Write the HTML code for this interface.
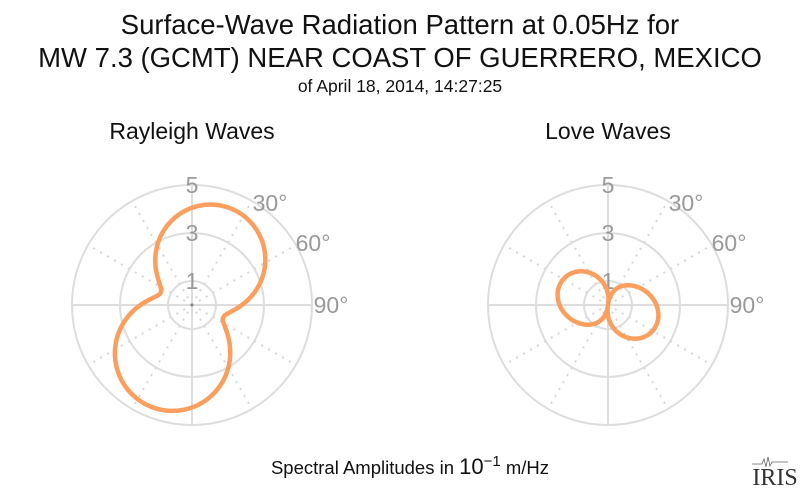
<!DOCTYPE html>
<html><head><meta charset="utf-8"><style>
body{margin:0;background:#fff;}
svg text{font-family:"Liberation Sans",sans-serif;}
</style></head><body>
<svg id="s" width="800" height="496" xmlns="http://www.w3.org/2000/svg">
<rect width="800" height="496" fill="#fff"/>
<text x="400" y="34" font-size="27.5" text-anchor="middle" fill="#111">Surface-Wave Radiation Pattern at 0.05Hz for</text>
<text x="400" y="67" font-size="27.5" text-anchor="middle" fill="#111">MW 7.3 (GCMT) NEAR COAST OF GUERRERO, MEXICO</text>
<text x="400" y="92" font-size="17.5" text-anchor="middle" fill="#111">of April 18, 2014, 14:27:25</text>
<text x="192" y="139" font-size="23" text-anchor="middle" fill="#111">Rayleigh Waves</text>
<text x="608" y="139" font-size="23" text-anchor="middle" fill="#111">Love Waves</text>
<text x="410" y="474" font-size="18.5" text-anchor="middle" fill="#111">Spectral Amplitudes in <tspan font-size="22">10</tspan><tspan font-size="15" dy="-8">−1</tspan><tspan dy="8"> m/Hz</tspan></text>
<text x="775" y="485" font-size="24" text-anchor="middle" fill="#333" style="font-family:'Liberation Serif',serif">IRIS</text>
<path d="M752 464 h10 l2 -5 l2 8 l2 -10 l2 9 l2 -4 h16" stroke="#666" fill="none" stroke-width="0.8"/>
<g id="g"></g>
</svg>
<script>
const g=document.getElementById('g');let h='';
function plot(cx,cy,f){
  const s=24;
  for(let a=0;a<360;a+=30){
    const t=a*Math.PI/180;const x=cx+120*Math.sin(t),y=cy-120*Math.cos(t);
    if(a%90==0)h+=`<line x1="${cx}" y1="${cy}" x2="${x}" y2="${y}" stroke="#ddd" stroke-width="2"/>`;
    else h+=`<line x1="${cx}" y1="${cy}" x2="${x}" y2="${y}" stroke="#d6d6d6" stroke-width="2" stroke-dasharray="2,6"/>`;
  }
  [1,3,5].forEach(r=>h+=`<circle cx="${cx}" cy="${cy}" r="${r*s}" fill="none" stroke="#ddd" stroke-width="2"/>`);
  h+=`<circle cx="${cx}" cy="${cy}" r="1.5" fill="#888"/>`;
  [5,3,1].forEach(v=>h+=`<text x="${cx}" y="${cy-v*s+8}" font-size="23" text-anchor="middle" fill="#999">${v}</text>`);
  h+=`<text x="${cx+78}" y="${cy-94}" font-size="23" text-anchor="middle" fill="#999">30°</text>`;
  h+=`<text x="${cx+121}" y="${cy-54}" font-size="23" text-anchor="middle" fill="#999">60°</text>`;
  h+=`<text x="${cx+139}" y="${cy+8}" font-size="23" text-anchor="middle" fill="#999">90°</text>`;
  let d='';
  for(let i=0;i<=720;i++){const t=i/2*Math.PI/180;const r=f(t)*s;const x=cx+r*Math.sin(t),y=cy-r*Math.cos(t);d+=(i?'L':'M')+x.toFixed(1)+' '+y.toFixed(1);}
  h+=`<path d="${d}Z" fill="none" stroke="#fb9e5e" stroke-width="4.5" stroke-linejoin="round"/>`;
}
const R=Math.PI/180;
plot(192,305,t=>{const c=Math.cos(t-22*R);const D=c>0?4.1:4.35;return Math.sqrt(1.4*1.4+Math.pow(D*c,2));});
plot(608,305,t=>2.0*Math.pow(Math.abs(Math.sin(t-8*R)),0.75)*(1+0.15*Math.cos(2*(t-132*R))));
g.innerHTML=h;
</script>
</body></html>
